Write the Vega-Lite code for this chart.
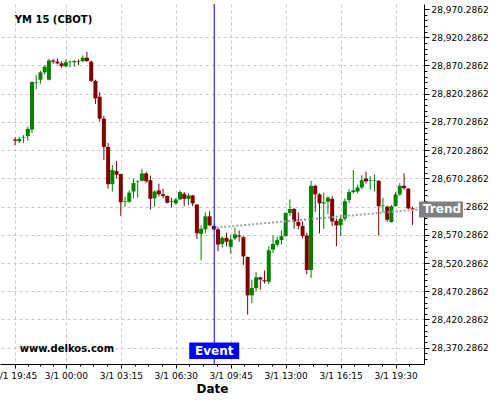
{
  "$schema": "https://vega.github.io/schema/vega-lite/v6.json",
  "width": 424,
  "height": 360,
  "autosize": "none",
  "padding": {"left": 0, "top": 4, "right": 76, "bottom": 36},
  "config": {"font": "DejaVu Sans", "view": {"stroke": null}},
  "datasets": {
    "bars": [
      {"i":-12,"open":28739,"high":28743,"low":28729,"close":28737},
      {"i":-11,"open":28736,"high":28744,"low":28733,"close":28740},
      {"i":-10,"open":28742,"high":28747,"low":28733,"close":28743},
      {"i":-9,"open":28745,"high":28762,"low":28737,"close":28758},
      {"i":-8,"open":28757,"high":28842,"low":28751,"close":28841},
      {"i":-7,"open":28840,"high":28853,"low":28828,"close":28841},
      {"i":-6,"open":28845,"high":28861,"low":28838,"close":28858},
      {"i":-5,"open":28858,"high":28871,"low":28854,"close":28868},
      {"i":-4,"open":28845,"high":28882,"low":28844,"close":28879},
      {"i":-3,"open":28879,"high":28882,"low":28873,"close":28877},
      {"i":-2,"open":28877,"high":28883,"low":28872,"close":28874},
      {"i":-1,"open":28874,"high":28877,"low":28866,"close":28869},
      {"i":0,"open":28869,"high":28881,"low":28867,"close":28876},
      {"i":1,"open":28876,"high":28879,"low":28867,"close":28877},
      {"i":2,"open":28876,"high":28880,"low":28868,"close":28878},
      {"i":3,"open":28878,"high":28881,"low":28871,"close":28877},
      {"i":4,"open":28878,"high":28888,"low":28876,"close":28884},
      {"i":5,"open":28884,"high":28894,"low":28877,"close":28878},
      {"i":6,"open":28877,"high":28879,"low":28841,"close":28843},
      {"i":7,"open":28843,"high":28845,"low":28802,"close":28812},
      {"i":8,"open":28815,"high":28823,"low":28771,"close":28776},
      {"i":9,"open":28776,"high":28781,"low":28703,"close":28726},
      {"i":10,"open":28726,"high":28733,"low":28652,"close":28660},
      {"i":11,"open":28660,"high":28694,"low":28647,"close":28685},
      {"i":12,"open":28683,"high":28701,"low":28670,"close":28677},
      {"i":13,"open":28678,"high":28678,"low":28604,"close":28628},
      {"i":14,"open":28629,"high":28638,"low":28620,"close":28630},
      {"i":15,"open":28629,"high":28649,"low":28627,"close":28645},
      {"i":16,"open":28647,"high":28670,"low":28635,"close":28662},
      {"i":17,"open":28664,"high":28667,"low":28636,"close":28665},
      {"i":18,"open":28666,"high":28687,"low":28665,"close":28679},
      {"i":19,"open":28679,"high":28682,"low":28662,"close":28665},
      {"i":20,"open":28667,"high":28675,"low":28615,"close":28634},
      {"i":21,"open":28635,"high":28649,"low":28620,"close":28647},
      {"i":22,"open":28649,"high":28661,"low":28638,"close":28642},
      {"i":23,"open":28642,"high":28652,"low":28635,"close":28639},
      {"i":24,"open":28639,"high":28640,"low":28626,"close":28627},
      {"i":25,"open":28630,"high":28636,"low":28619,"close":28629},
      {"i":26,"open":28626,"high":28635,"low":28624,"close":28633},
      {"i":27,"open":28633,"high":28649,"low":28632,"close":28646},
      {"i":28,"open":28643,"high":28646,"low":28621,"close":28634},
      {"i":29,"open":28634,"high":28644,"low":28623,"close":28640},
      {"i":30,"open":28640,"high":28641,"low":28621,"close":28626},
      {"i":31,"open":28624,"high":28624,"low":28563,"close":28573},
      {"i":32,"open":28572,"high":28587,"low":28525,"close":28581},
      {"i":33,"open":28580,"high":28610,"low":28573,"close":28603},
      {"i":34,"open":28603,"high":28612,"low":28586,"close":28587},
      {"i":35,"open":28586,"high":28587,"low":28579,"close":28580},
      {"i":36,"open":28580,"high":28583,"low":28541,"close":28553},
      {"i":37,"open":28554,"high":28568,"low":28548,"close":28565},
      {"i":38,"open":28565,"high":28574,"low":28550,"close":28558},
      {"i":39,"open":28549,"high":28569,"low":28537,"close":28562},
      {"i":40,"open":28564,"high":28583,"low":28561,"close":28571},
      {"i":41,"open":28569,"high":28578,"low":28558,"close":28567},
      {"i":42,"open":28566,"high":28568,"low":28517,"close":28532},
      {"i":43,"open":28531,"high":28532,"low":28429,"close":28463},
      {"i":44,"open":28463,"high":28491,"low":28449,"close":28476},
      {"i":45,"open":28476,"high":28504,"low":28470,"close":28495},
      {"i":46,"open":28495,"high":28496,"low":28473,"close":28491},
      {"i":47,"open":28490,"high":28507,"low":28484,"close":28488},
      {"i":48,"open":28487,"high":28550,"low":28483,"close":28543},
      {"i":49,"open":28544,"high":28569,"low":28538,"close":28554},
      {"i":50,"open":28553,"high":28567,"low":28549,"close":28561},
      {"i":51,"open":28561,"high":28578,"low":28553,"close":28568},
      {"i":52,"open":28568,"high":28610,"low":28567,"close":28609},
      {"i":53,"open":28609,"high":28633,"low":28604,"close":28616},
      {"i":54,"open":28616,"high":28618,"low":28581,"close":28594},
      {"i":55,"open":28593,"high":28610,"low":28580,"close":28586},
      {"i":56,"open":28586,"high":28594,"low":28564,"close":28568},
      {"i":57,"open":28569,"high":28574,"low":28500,"close":28508},
      {"i":58,"open":28508,"high":28666,"low":28494,"close":28657},
      {"i":59,"open":28657,"high":28659,"low":28611,"close":28642},
      {"i":60,"open":28642,"high":28644,"low":28573,"close":28626},
      {"i":61,"open":28626,"high":28645,"low":28581,"close":28628},
      {"i":62,"open":28629,"high":28639,"low":28607,"close":28636},
      {"i":63,"open":28634,"high":28639,"low":28586,"close":28594},
      {"i":64,"open":28595,"high":28599,"low":28550,"close":28587},
      {"i":65,"open":28587,"high":28606,"low":28568,"close":28599},
      {"i":66,"open":28599,"high":28635,"low":28595,"close":28630},
      {"i":67,"open":28632,"high":28651,"low":28626,"close":28646},
      {"i":68,"open":28646,"high":28685,"low":28643,"close":28649},
      {"i":69,"open":28647,"high":28659,"low":28644,"close":28654},
      {"i":70,"open":28654,"high":28676,"low":28651,"close":28667},
      {"i":71,"open":28670,"high":28682,"low":28661,"close":28665},
      {"i":72,"open":28666,"high":28674,"low":28650,"close":28667},
      {"i":73,"open":28666,"high":28677,"low":28647,"close":28667},
      {"i":74,"open":28666,"high":28667,"low":28569,"close":28621},
      {"i":75,"open":28621,"high":28636,"low":28610,"close":28622},
      {"i":76,"open":28620,"high":28622,"low":28593,"close":28597},
      {"i":77,"open":28593,"high":28623,"low":28592,"close":28621},
      {"i":78,"open":28621,"high":28646,"low":28620,"close":28642},
      {"i":79,"open":28642,"high":28662,"low":28639,"close":28657},
      {"i":80,"open":28657,"high":28679,"low":28650,"close":28653},
      {"i":81,"open":28652,"high":28653,"low":28616,"close":28617},
      {"i":82,"open":28617,"high":28620,"low":28588,"close":28615}
    ],
    "trend": [
      {"i":35.6,"price":28583.1,"label":""},
      {"i":83.53,"price":28615.3,"label":"Trend"}
    ],
    "event": [
      {"i":35.1,"label":"Event"}
    ]
  },
  "layer": [
    {
      "data": {"name": "bars"},
      "mark": {"type": "rule", "strokeWidth": 1},
      "encoding": {
        "x": {
          "field": "i", "type": "quantitative",
          "scale": {"domain": [-14.388, 83.533], "nice": false, "zero": false},
          "axis": {
            "values": [-12,-9,-6,-3,0,3.25,6.5,9.75,13,16.25,19.5,22.75,26,29.25,32.5,35.75,39,42.25,45.5,48.75,52,55.25,58.5,61.75,65,68.25,71.5,74.75,78,81.25],
            "tickCount": 500,
            "labelExpr": "datum.value == -12 ? '2/1 19:45' : datum.value == 0 ? '3/1 00:00' : datum.value == 13 ? '3/1 03:15' : datum.value == 26 ? '3/1 06:30' : datum.value == 39 ? '3/1 09:45' : datum.value == 52 ? '3/1 13:00' : datum.value == 65 ? '3/1 16:15' : datum.value == 78 ? '3/1 19:30' : ''",
            "title": "Date",
            "titleFont": "DejaVu Sans", "titleFontSize": 12, "titleFontWeight": "bold", "titleColor": "#000000", "titlePadding": 3,
            "labelFont": "DejaVu Sans", "labelFontSize": 9, "labelColor": "#000000", "labelPadding": 3,
            "labelFlush": false, "labelOverlap": false, "labelBound": false,
            "domainColor": "#000000", "domainWidth": 1, "tickColor": "#000000",
            "tickSize": {"condition": {"test": "indexof([-12,0,13,26,39,52,65,78], datum.value) >= 0", "value": 4}, "value": 2},
            "grid": true, "gridColor": "#c8c8c8", "gridDash": [3, 3],
            "gridOpacity": {"condition": {"test": "indexof([-12,0,13,26,39,52,65,78], datum.value) >= 0", "value": 1}, "value": 0}
          }
        },
        "y": {
          "field": "low", "type": "quantitative",
          "scale": {"domain": [28350.2862, 28970.2862], "nice": false, "zero": false},
          "axis": {
            "orient": "right",
            "values": [28350.2862,28360.2862,28370.2862,28380.2862,28390.2862,28400.2862,28410.2862,28420.2862,28430.2862,28440.2862,28450.2862,28460.2862,28470.2862,28480.2862,28490.2862,28500.2862,28510.2862,28520.2862,28530.2862,28540.2862,28550.2862,28560.2862,28570.2862,28580.2862,28590.2862,28600.2862,28610.2862,28620.2862,28630.2862,28640.2862,28650.2862,28660.2862,28670.2862,28680.2862,28690.2862,28700.2862,28710.2862,28720.2862,28730.2862,28740.2862,28750.2862,28760.2862,28770.2862,28780.2862,28790.2862,28800.2862,28810.2862,28820.2862,28830.2862,28840.2862,28850.2862,28860.2862,28870.2862,28880.2862,28890.2862,28900.2862,28910.2862,28920.2862,28930.2862,28940.2862,28950.2862,28960.2862,28970.2862],
            "tickCount": 500,
            "format": ",.4f",
            "labelExpr": "round(datum.value - 28370.2862) % 50 == 0 ? datum.label : ''",
            "title": null,
            "labelFont": "DejaVu Sans", "labelFontSize": 9, "labelColor": "#000000", "labelPadding": 2,
            "labelFlush": false, "labelOverlap": false, "labelBound": false,
            "domainColor": "#000000", "tickColor": "#000000",
            "tickSize": {"condition": {"test": "round(datum.value - 28370.2862) % 50 == 0", "value": 5}, "value": 3},
            "grid": true, "gridColor": "#c8c8c8", "gridDash": [3, 3],
            "gridOpacity": {"condition": {"test": "round(datum.value - 28370.2862) % 50 == 0 && datum.value < 28960", "value": 1}, "value": 0}
          }
        },
        "y2": {"field": "high"},
        "color": {"condition": {"test": "datum.close >= datum.open", "value": "#008000"}, "value": "#800000"}
      }
    },
    {
      "data": {"name": "bars"},
      "mark": {"type": "bar", "width": 4},
      "encoding": {
        "x": {"field": "i", "type": "quantitative"},
        "y": {"field": "open", "type": "quantitative"},
        "y2": {"field": "close"},
        "color": {"condition": {"test": "datum.close >= datum.open", "value": "#008000"}, "value": "#800000"}
      }
    },
    {
      "data": {"name": "trend"},
      "mark": {"type": "line", "color": "#a0a0a0", "strokeWidth": 2, "strokeDash": [2, 2]},
      "encoding": {
        "x": {"field": "i", "type": "quantitative"},
        "y": {"field": "price", "type": "quantitative"}
      }
    },
    {
      "data": {"name": "event"},
      "mark": {"type": "rule", "color": "#0000ff", "strokeWidth": 1},
      "encoding": {
        "x": {"field": "i", "type": "quantitative"}
      }
    },
    {
      "data": {"name": "event"},
      "mark": {"type": "bar", "width": 50, "color": "#0000ff"},
      "encoding": {
        "x": {"field": "i", "type": "quantitative"},
        "y": {"datum": 28350.2862},
        "y2": {"datum": 28379.6}
      }
    },
    {
      "data": {"name": "event"},
      "mark": {"type": "text", "color": "#ffffff", "fontSize": 12, "fontWeight": "bold", "align": "center", "baseline": "middle"},
      "encoding": {
        "x": {"field": "i", "type": "quantitative"},
        "y": {"datum": 28364.9},
        "text": {"field": "label"}
      }
    },
    {
      "data": {"name": "trend"},
      "transform": [{"filter": "datum.label == 'Trend'"}],
      "mark": {"type": "bar", "height": 16, "color": "#808080", "clip": false},
      "encoding": {
        "x": {"field": "i", "type": "quantitative"},
        "x2": {"datum": 93.93},
        "y": {"field": "price", "type": "quantitative"}
      }
    },
    {
      "data": {"name": "trend"},
      "transform": [{"filter": "datum.label == 'Trend'"}],
      "mark": {"type": "text", "color": "#ffffff", "fontSize": 12, "fontWeight": "bold", "align": "left", "baseline": "middle", "dx": 4},
      "encoding": {
        "x": {"field": "i", "type": "quantitative"},
        "y": {"field": "price", "type": "quantitative"},
        "text": {"field": "label"}
      }
    },
    {
      "data": {"values": [{"i": -12.08, "price": 28950.8, "label": "YM 15 (CBOT)"}, {"i": -10.92, "price": 28367.5, "label": "www.delkos.com"}]},
      "mark": {"type": "text", "color": "#000000", "fontSize": 10, "fontWeight": "bold", "align": "left", "baseline": "middle"},
      "encoding": {
        "x": {"field": "i", "type": "quantitative"},
        "y": {"field": "price", "type": "quantitative"},
        "text": {"field": "label"}
      }
    }
  ]
}
